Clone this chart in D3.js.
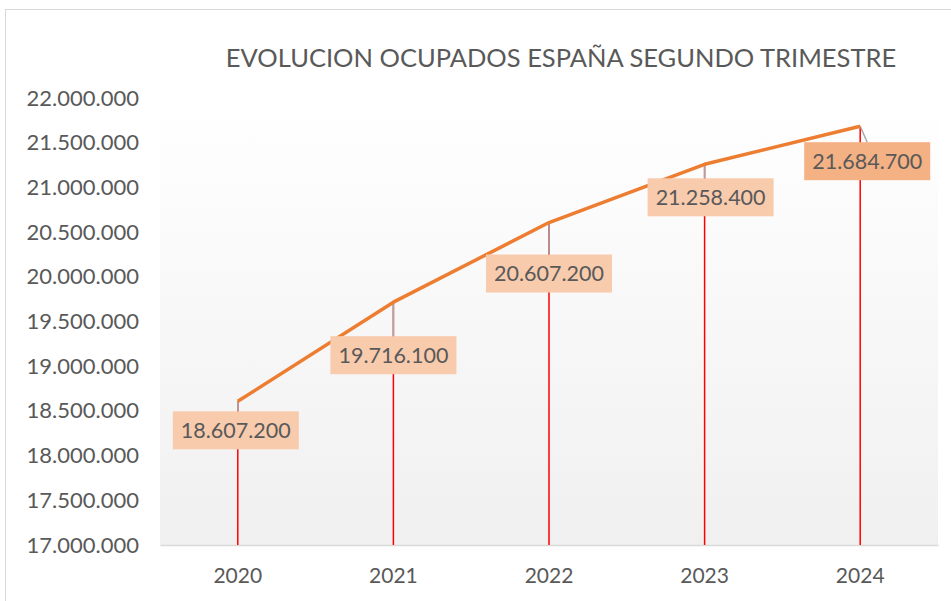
<!DOCTYPE html>
<meta charset="UTF-8">
<style>
body { margin: 0; background: #fff; }
svg text { font-family: Lato, "Open Sans", sans-serif; fill: #595959; }
</style>
<body>
<script src="https://d3js.org/d3.v7.min.js"></script>
<script>

// data
var years = ["2020", "2021", "2022", "2023", "2024"];
var ocupados = [18607200, 19716100, 20607200, 21258400, 21684700];
var yTicks = [17000000, 17500000, 18000000, 18500000, 19000000, 19500000,
              20000000, 20500000, 21000000, 21500000, 22000000];

var W = 951, H = 601;
var margin = {top: 98, right: 13, bottom: 56, left: 160};
var width = W - margin.left - margin.right,
    height = H - margin.top - margin.bottom;

var svg = d3.select("body").append("svg")
    .attr("width", W)
    .attr("height", H);

// outer chart border
svg.append("rect")
    .attr("x", 5.5).attr("y", 9.5)
    .attr("width", W + 20).attr("height", H + 20)
    .attr("fill", "none")
    .attr("stroke", "#d9d9d9");

var defs = svg.append("defs");
var grad = defs.append("linearGradient")
    .attr("id", "bg").attr("x1", 0).attr("y1", 0).attr("x2", 0).attr("y2", 1);
grad.append("stop").attr("offset", "0%").attr("stop-color", "#ffffff");
grad.append("stop").attr("offset", "100%").attr("stop-color", "#f0f0f0");

var g = svg.append("g")
    .attr("transform", "translate(" + margin.left + "," + margin.top + ")");

var x = d3.scaleBand().domain(years).range([0, width]);
var y = d3.scaleLinear().domain([17000000, 22000000]).range([height, 0]);

// plot area
g.append("rect")
    .attr("width", width).attr("height", height)
    .attr("fill", "url(#bg)");

// title
svg.append("text")
    .attr("x", 561).attr("y", 67)
    .attr("text-anchor", "middle")
    .style("font-size", "25.5px")
    .text("EVOLUCION OCUPADOS ESPAÑA SEGUNDO TRIMESTRE");

var fmt = function(v) { return d3.format(",")(v).replace(/,/g, "."); };

// y axis labels
var yAxis = g.append("g")
    .call(d3.axisLeft(y).tickValues(yTicks).tickFormat(fmt).tickSize(0).tickPadding(21));
yAxis.select(".domain").remove();
yAxis.selectAll("text").style("font-size", "22px").attr("fill", "#595959");

// x axis
var xAxis = g.append("g")
    .attr("transform", "translate(0," + height + ")")
    .call(d3.axisBottom(x).tickSize(0).tickPadding(23));
xAxis.select(".domain").attr("stroke", "#d9d9d9").attr("stroke-width", 1.5);
xAxis.selectAll("text").style("font-size", "21px").attr("fill", "#595959");

var cx = function(d, i) { return x(years[i]) + x.bandwidth() / 2; };

// drop lines
g.selectAll(".drop")
    .data(ocupados)
    .join("line")
    .attr("class", "drop")
    .attr("x1", cx).attr("x2", cx)
    .attr("y1", function(d) { return y(d); })
    .attr("y2", height)
    .attr("stroke", "#ff0000")
    .attr("stroke-width", 1.5);

// label boxes
var labelDy = [29, 53, 51, 33, 35];
var labelDx = [-2, 0, 0, 6, 7];
var boxW = 126, boxH = 38;

// leader lines
g.selectAll(".leader")
    .data(ocupados)
    .join("line")
    .attr("class", "leader")
    .attr("x1", cx)
    .attr("y1", function(d) { return y(d); })
    .attr("x2", function(d, i) { return cx(d, i) + (i === 4 ? 7 : 0); })
    .attr("y2", function(d, i) { return y(d) + labelDy[i] - boxH / 2; })
    .attr("stroke", "#a6a6a6")
    .attr("stroke-width", 1.5);

// line
g.append("path")
    .datum(ocupados)
    .attr("fill", "none")
    .attr("stroke", "#ed7d31")
    .attr("stroke-width", 3.5)
    .attr("stroke-linejoin", "round")
    .attr("d", d3.line().x(cx).y(function(d) { return y(d); }));

var lab = g.selectAll(".lab")
    .data(ocupados)
    .join("g")
    .attr("class", "lab")
    .attr("transform", function(d, i) {
      return "translate(" + (cx(d, i) + labelDx[i]) + "," + (y(d) + labelDy[i]) + ")";
    });

lab.append("rect")
    .attr("x", -boxW / 2).attr("y", -boxH / 2)
    .attr("width", boxW).attr("height", boxH)
    .attr("fill", function(d, i) { return i === 4 ? "#f4b183" : "#f8cbad"; });

lab.append("text")
    .attr("text-anchor", "middle")
    .attr("dy", "0.35em")
    .style("font-size", "21.5px")
    .text(fmt);

</script>
</body>
